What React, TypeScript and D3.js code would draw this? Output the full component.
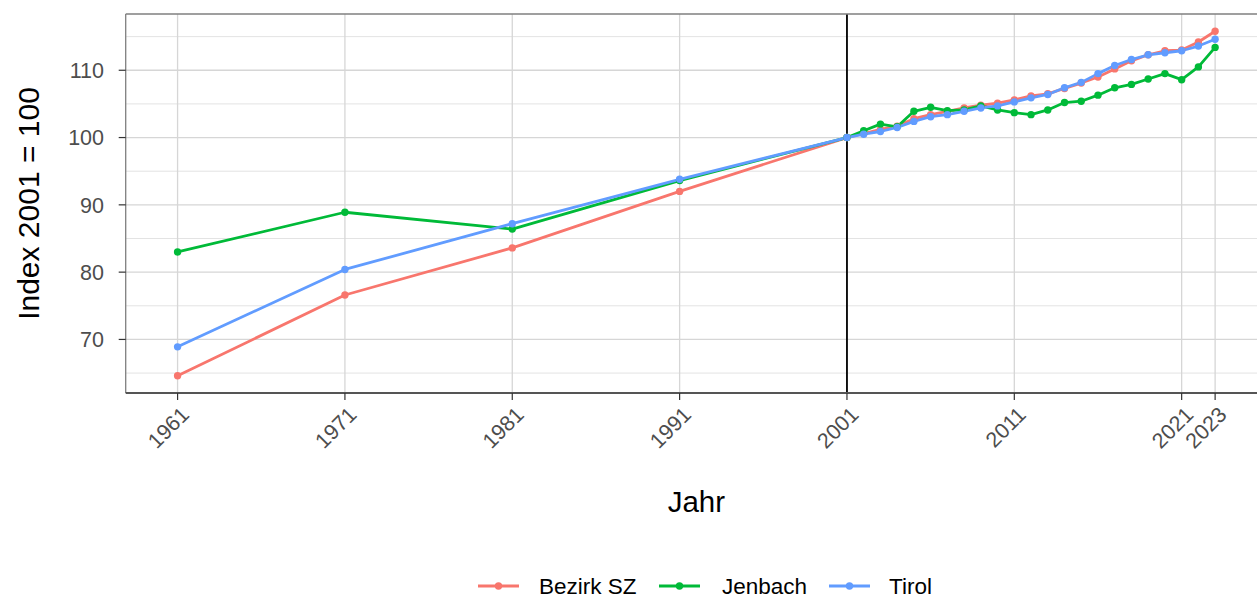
import React from "react";
import * as d3 from "d3";

const years = [1961, 1971, 1981, 1991, 2001, 2002, 2003, 2004, 2005, 2006, 2007, 2008, 2009, 2010, 2011, 2012, 2013, 2014, 2015, 2016, 2017, 2018, 2019, 2020, 2021, 2022, 2023];
const bezirkSZ = [64.6, 76.6, 83.6, 92.0, 100, 100.6, 101.2, 101.7, 102.8, 103.4, 103.9, 104.4, 104.8, 105.1, 105.6, 106.2, 106.5, 107.3, 108.1, 109.0, 110.2, 111.4, 112.3, 112.9, 113.0, 114.2, 115.8];
const jenbach = [83.0, 88.9, 86.4, 93.6, 100, 101.0, 102.0, 101.6, 103.9, 104.5, 104.0, 104.1, 104.7, 104.1, 103.7, 103.4, 104.1, 105.2, 105.4, 106.3, 107.4, 107.9, 108.7, 109.5, 108.6, 110.5, 113.4];
const tirol = [68.9, 80.4, 87.2, 93.8, 100, 100.5, 100.9, 101.5, 102.4, 103.1, 103.4, 103.9, 104.4, 104.7, 105.3, 105.9, 106.4, 107.4, 108.2, 109.5, 110.7, 111.6, 112.3, 112.6, 112.9, 113.6, 114.6];

const seriesNames = ["Bezirk SZ", "Jenbach", "Tirol"];
const seriesColors = ["#F8766D", "#00BA38", "#619CFF"];
const seriesValues = [bezirkSZ, jenbach, tirol];

const xBreaks = [1961, 1971, 1981, 1991, 2001, 2011, 2021, 2023];
const yBreaks = [70, 80, 90, 100, 110];
const yMinor = [65, 75, 85, 95, 105, 115];

const W = 1257;
const H = 598;
const FONT = "'Liberation Sans', Arial, sans-serif";

export default function App() {
  const left = 125.7;
  const right = 1267;
  const top = 14;
  const bottom = 393;

  const allVals = seriesValues.flat();
  const yMin = d3.min(allVals)!;
  const yMax = d3.max(allVals)!;
  const yPad = (yMax - yMin) * 0.05;
  const xMin = d3.min(years)!;
  const xMax = d3.max(years)!;
  const xPad = (xMax - xMin) * 0.05;

  const x = d3.scaleLinear().domain([xMin - xPad, xMax + xPad]).range([left, right]);
  const y = d3.scaleLinear().domain([yMin - yPad, yMax + yPad]).range([bottom, top]);

  const line = d3
    .line<[number, number]>()
    .x((d) => x(d[0]))
    .y((d) => y(d[1]));

  const legendItems = [
    { keyX: 478, textX: 539 },
    { keyX: 659, textX: 722 },
    { keyX: 829, textX: 889 },
  ];

  return (
    <svg
      width={W}
      height={H}
      style={{ position: "absolute", left: 0, top: 0, background: "#fff" }}
      fontFamily={FONT}
    >
      <defs>
        <clipPath id="panel">
          <rect x={left} y={top} width={right - left} height={bottom - top} />
        </clipPath>
      </defs>
      <rect x={0} y={0} width={W} height={H} fill="#fff" />
      {/* grid */}
      <g clipPath="url(#panel)">
        {yMinor.map((v) => (
          <line key={"mn" + v} x1={left} x2={right} y1={y(v)} y2={y(v)} stroke="#E3E3E3" strokeWidth={1} />
        ))}
        {yBreaks.map((v) => (
          <line key={"mj" + v} x1={left} x2={right} y1={y(v)} y2={y(v)} stroke="#D6D6D6" strokeWidth={1.3} />
        ))}
        {xBreaks.map((v) => (
          <line key={"xv" + v} x1={x(v)} x2={x(v)} y1={top} y2={bottom} stroke="#D6D6D6" strokeWidth={1.3} />
        ))}
        <line x1={x(2001)} x2={x(2001)} y1={top} y2={bottom} stroke="#000" strokeWidth={1.8} />
        {seriesValues.map((vals, i) => (
          <path
            key={"l" + i}
            d={line(years.map((yr, j) => [yr, vals[j]] as [number, number]))!}
            fill="none"
            stroke={seriesColors[i]}
            strokeWidth={2.8}
            strokeLinejoin="round"
          />
        ))}
        {seriesValues.map((vals, i) =>
          years.map((yr, j) => (
            <circle key={"p" + i + "-" + j} cx={x(yr)} cy={y(vals[j])} r={3.7} fill={seriesColors[i]} />
          ))
        )}
      </g>
      {/* panel border */}
      <line x1={left} x2={left} y1={top} y2={bottom} stroke="#7F7F7F" strokeWidth={1.3} />
      <line x1={left} x2={right} y1={top} y2={top} stroke="#7F7F7F" strokeWidth={1.3} />
      <line x1={left} x2={right} y1={bottom} y2={bottom} stroke="#555" strokeWidth={2} />
      {/* y axis */}
      {yBreaks.map((v) => (
        <g key={"yt" + v}>
          <line x1={left - 7} x2={left} y1={y(v)} y2={y(v)} stroke="#333" strokeWidth={1.2} />
          <text x={104} y={y(v)} dy="0.36em" textAnchor="end" fontSize={21.5} fill="#4D4D4D">
            {v}
          </text>
        </g>
      ))}
      {/* x axis */}
      {xBreaks.map((v) => (
        <g key={"xt" + v}>
          <line x1={x(v)} x2={x(v)} y1={bottom} y2={bottom + 7} stroke="#333" strokeWidth={1.2} />
          <text
            transform={`translate(${x(v) + 2},${bottom + 12}) rotate(-45)`}
            dy="0.72em"
            textAnchor="end"
            fontSize={21.5}
            fill="#4D4D4D"
          >
            {v}
          </text>
        </g>
      ))}
      {/* axis titles */}
      <text x={(left + right) / 2} y={512} textAnchor="middle" fontSize={29.5} fill="#000">
        Jahr
      </text>
      <text
        transform={`translate(39,${(top + bottom) / 2}) rotate(-90)`}
        textAnchor="middle"
        fontSize={30}
        fill="#000"
      >
        Index 2001 = 100
      </text>
      {/* legend */}
      {legendItems.map((it, i) => (
        <g key={"lg" + i}>
          <line x1={it.keyX} x2={it.keyX + 41} y1={586} y2={586} stroke={seriesColors[i]} strokeWidth={2.8} />
          <circle cx={it.keyX + 20.5} cy={586} r={3.7} fill={seriesColors[i]} />
          <text x={it.textX} y={594} fontSize={22.5} fill="#000">
            {seriesNames[i]}
          </text>
        </g>
      ))}
    </svg>
  );
}
